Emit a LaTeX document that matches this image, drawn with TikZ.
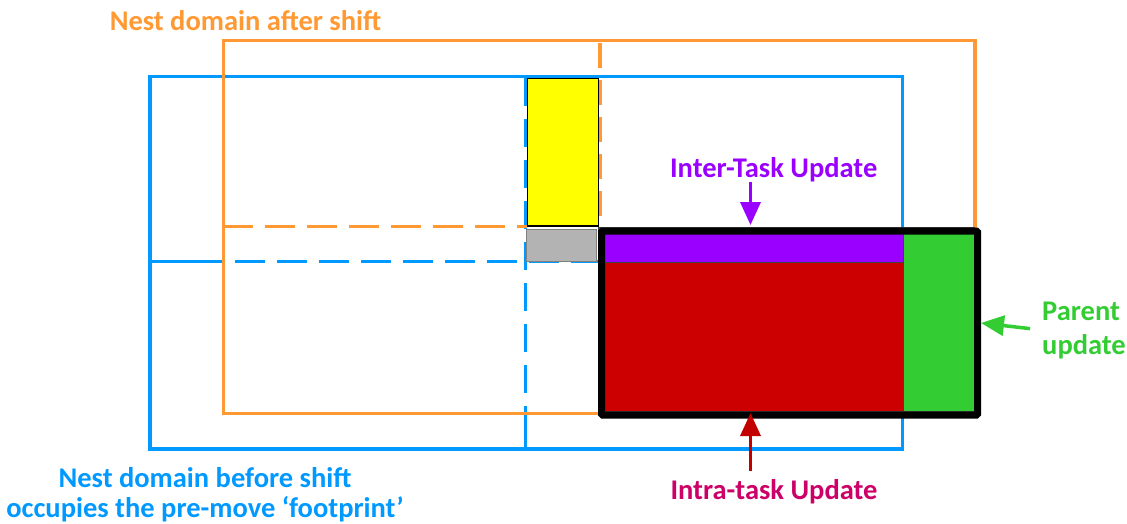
\documentclass[tikz,border=0pt]{standalone}
\usepackage{fontspec}
\setmainfont{Carlito}
\usetikzlibrary{arrows.meta}
\definecolor{cblue}{RGB}{0,153,255}
\definecolor{corange}{RGB}{255,153,51}
\definecolor{cyellow}{RGB}{255,255,0}
\definecolor{cgray}{RGB}{179,179,179}
\definecolor{cpurple}{RGB}{153,0,255}
\definecolor{cred}{RGB}{204,0,0}
\definecolor{cgreen}{RGB}{51,204,51}
\definecolor{cintra}{RGB}{204,0,102}
\begin{document}
\begin{tikzpicture}[x=1pt,y=-1pt,
  lbl/.style={font=\bfseries\fontsize{28.5}{30}\selectfont, inner sep=0pt},
  bline/.style={cblue, line width=3.5pt},
  oline/.style={corange, line width=3.5pt},
  dsh/.style={dash pattern=on 30pt off 12pt},
  blockbox/.style={draw=black!75, line width=0.8pt, inner sep=0pt, outer sep=0pt, anchor=north west},
  arr/.style={line width=3.5pt, -{Triangle[width=20pt,length=23pt]}},
]
\useasboundingbox (0,0) rectangle (1127,523);
% blue domain (before shift)
\draw[bline] (150,76.5) rectangle (902.5,449);
\draw[bline] (150,261.7) -- (223.3,261.7);
\draw[bline,dsh,dash phase=30pt] (223.3,261.7) -- (598,261.7);
\draw[bline,dash pattern=on 28pt off 13pt] (525.5,78) -- (525.5,413.3);
\draw[bline] (525.5,413.3) -- (525.5,449);
% orange domain (after shift)
\draw[oline] (223.3,40.7) rectangle (975,413.3);
\draw[oline,dsh] (223.3,226.7) -- (527,226.7);
\draw[oline,dash pattern=on 25pt off 12pt,dash phase=-2pt] (600,40.7) -- (600,226.7);
% blocks
\node[blockbox, draw=black, line width=1.2pt, fill=cyellow, minimum width=70.6pt, minimum height=147.7pt] (yellow) at (527.7,78.3) {};
\node[blockbox, draw=black!50, line width=1.5pt, fill=cgray, minimum width=70pt, minimum height=32.4pt] (gray) at (526.7,229.3) {};
\node[blockbox, fill=cpurple, minimum width=305pt, minimum height=34.5pt] (purple) at (598,227.5) {};
\node[blockbox, fill=cred, minimum width=305pt, minimum height=149.5pt] (red) at (598,262) {};
\node[blockbox, fill=cgreen, minimum width=71pt, minimum height=184pt] (green) at (903,227.5) {};
\node[draw=black, line width=7pt, inner sep=0pt, anchor=north west, minimum width=376pt, minimum height=184pt, rounded corners=1pt] (core) at (598,227.5) {};
% labels
\node[lbl, text=corange] (after) at (245.5,21) {Nest domain after shift};
\node[lbl, text=cpurple] (inter) at (773.7,169.3) {Inter-Task Update};
\node[lbl, text=cgreen, align=left, anchor=west, font=\bfseries\fontsize{28.5}{34}\selectfont] (parent) at (1042,330) {Parent\\update};
\node[lbl, text=cintra] (intra) at (774,492) {Intra-task Update};
\node[lbl, text=cblue, align=center] (before) at (205,495) {Nest domain before shift\\occupies the pre-move ‘footprint’};
% arrows
\draw[arr, cpurple, shorten >=2.5pt] (purple.north |- inter.south) -- (purple.north);
\draw[arr, cgreen, shorten <=12pt] (parent.west) -- (core.east);
\draw[arr, cred!95!black, shorten <=9pt, shorten >=1.5pt] (red.south |- intra.north) -- (red.south);
\end{tikzpicture}
\end{document}
